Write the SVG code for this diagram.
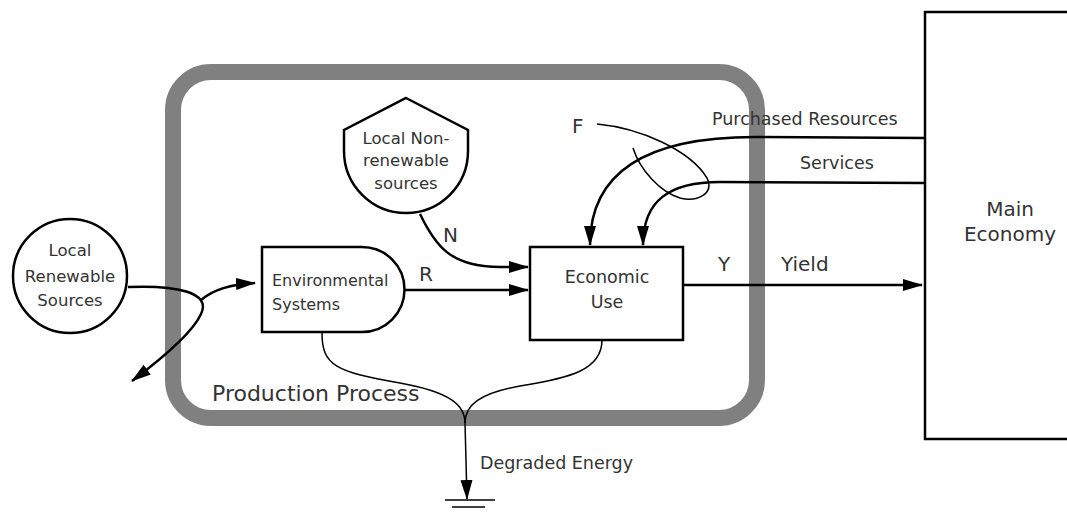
<svg xmlns="http://www.w3.org/2000/svg" width="1067" height="512" viewBox="0 0 1067 512">
<defs>
<style>
text{font-family:"DejaVu Sans","Liberation Sans",sans-serif;fill:#333;}
.node{fill:#fff;stroke:#000;stroke-width:2.5;}
.flow{fill:none;stroke:#000;stroke-width:2.5;}
.thin{fill:none;stroke:#000;stroke-width:1.5;}
.lbl{font-size:17.5px;}
.nl{font-size:16.5px;}
.big{font-size:20px;}
</style>
<marker id="arr" viewBox="0 0 20 14" refX="19" refY="7" markerWidth="20" markerHeight="14" markerUnits="userSpaceOnUse" orient="auto">
<path d="M0,1 L20,7 L0,13 Z" fill="#000"/>
</marker>
</defs>
<rect width="1067" height="512" fill="#fff"/>

<g id="frame">
<rect x="173" y="72" width="584" height="346" rx="38" fill="none" stroke="#808080" stroke-width="16"/>
<text x="212" y="401" font-size="22">Production Process</text>
</g>

<g id="main-economy">
<rect x="925" y="12" width="160" height="427" class="node"/>
<text x="1010" y="216" font-size="20" text-anchor="middle">Main</text>
<text x="1010" y="241" font-size="20" text-anchor="middle">Economy</text>
</g>

<g id="local-renewable">
<circle cx="70" cy="276" r="57" class="node"/>
<text x="70" y="256" class="nl" text-anchor="middle">Local</text>
<text x="70" y="282" class="nl" text-anchor="middle">Renewable</text>
<text x="70" y="306" class="nl" text-anchor="middle">Sources</text>
</g>

<g id="local-nonrenewable">
<path d="M406,98 L468,130 L468,151 A62,62 0 0 1 344,151 L344,130 Z" class="node"/>
<text x="406" y="144" class="nl" text-anchor="middle">Local Non-</text>
<text x="406" y="166" class="nl" text-anchor="middle">renewable</text>
<text x="406" y="189" class="nl" text-anchor="middle">sources</text>
</g>

<g id="environmental-systems">
<path d="M262,247 H362 A42.5,42.5 0 0 1 362,332 H262 Z" class="node"/>
<text x="272" y="286" font-size="16">Environmental</text>
<text x="272" y="310" font-size="16">Systems</text>
</g>

<g id="economic-use">
<rect x="530" y="247" width="153" height="93" class="node"/>
<text x="607" y="283" class="lbl" text-anchor="middle">Economic</text>
<text x="607" y="308" class="lbl" text-anchor="middle">Use</text>
</g>

<g id="connectors">
<path class="flow" d="M128,287 C175,285 212,292 201,314 C192,334 160,360 132,381" marker-end="url(#arr)"/>
<path class="flow" d="M201,300 C215,288 235,284 255,283" marker-end="url(#arr)"/>
<path class="flow" d="M405,290 L528,290" marker-end="url(#arr)"/>
<path class="flow" d="M420,214 C435,245 450,267 500,267 L528,267" marker-end="url(#arr)"/>
<path class="flow" d="M925,138 L755,137 C650,137 590,170 590,245" marker-end="url(#arr)"/>
<path class="flow" d="M925,183 L720,182 C670,182 643,200 643,245" marker-end="url(#arr)"/>
<path class="flow" d="M683,285 L922,285" marker-end="url(#arr)"/>
<path class="thin" d="M597,124 C640,128 690,150 707,178 C715,195 695,202 680,198 C660,192 640,170 633,148"/>
<path class="thin" d="M322,333 C322,365 335,372 400,383 C450,392 465,405 465,423"/>
<path class="thin" d="M602,340 C602,370 570,378 520,386 C480,393 465,405 465,423"/>
<path class="thin" d="M465,423 L467,499" marker-end="url(#arr)"/>
<path class="thin" d="M445,500 H495 M452,507 H485" stroke-width="2"/>
</g>

<g id="labels">
<text x="443" y="242" class="big">N</text>
<text x="419" y="281" class="big">R</text>
<text x="572" y="133" class="big">F</text>
<text x="718" y="271" class="big">Y</text>
<text x="781" y="271" class="big">Yield</text>
<text x="712" y="125" class="lbl">Purchased Resources</text>
<text x="800" y="169" class="lbl">Services</text>
<text x="480" y="469" class="lbl">Degraded Energy</text>
</g>
</svg>
